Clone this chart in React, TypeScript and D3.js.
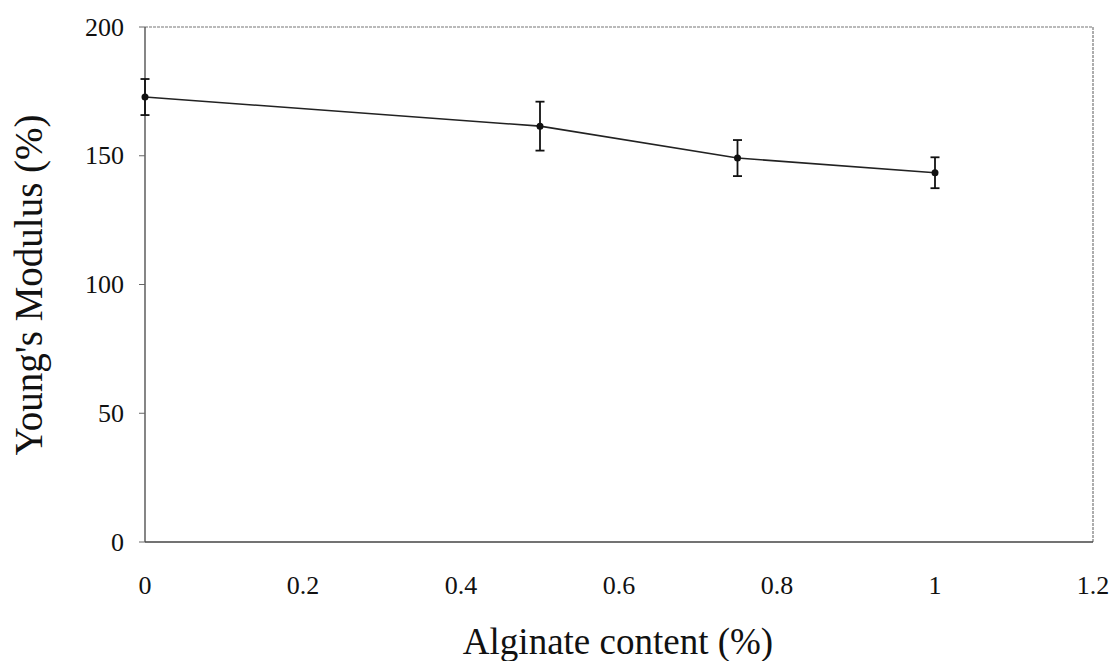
import React from "react"
import * as d3 from "d3"

const alginate = [0, 0.5, 0.75, 1]
const modulus = [172.8, 161.5, 149.1, 143.4]
const errors = [7, 9.5, 7, 6]
const xTicks = [0, 0.2, 0.4, 0.6, 0.8, 1, 1.2]
const yTicks = [0, 50, 100, 150, 200]

const width = 1114
const height = 661
const margin = { top: 27, right: 21, bottom: 119, left: 145 }
const font = "'Liberation Serif', 'Times New Roman', serif"

const App = () => {
  const x = d3
    .scaleLinear()
    .domain([0, 1.2])
    .range([margin.left, width - margin.right])
  const y = d3
    .scaleLinear()
    .domain([0, 200])
    .range([height - margin.bottom, margin.top])

  const line = d3
    .line<number>()
    .x((d, i) => x(alginate[i]))
    .y((d) => y(d))

  const x0 = x(0)
  const x1 = x(1.2)
  const y0 = y(0)
  const y1 = y(200)

  return (
    <svg
      width={width}
      height={height}
      style={{ position: "absolute", left: 0, top: 0, background: "#fff" }}
    >
      {/* frame: dotted top/right, solid left/bottom */}
      <line x1={x0} y1={y1} x2={x1} y2={y1} stroke="#777" strokeWidth={1.2} strokeDasharray="3,1" />
      <line x1={x1} y1={y1} x2={x1} y2={y0} stroke="#777" strokeWidth={1.2} strokeDasharray="3,1" />
      <line x1={x0} y1={y1} x2={x0} y2={y0} stroke="#444" strokeWidth={1.3} />
      <line x1={x0} y1={y0} x2={x1} y2={y0} stroke="#444" strokeWidth={1.3} />

      {/* y ticks */}
      {yTicks.map((t) => (
        <g key={t}>
          <line x1={x0 - 6} x2={x0} y1={y(t)} y2={y(t)} stroke="#666" strokeWidth={1} />
          <text
            x={x0 - 21}
            y={y(t)}
            textAnchor="end"
            dominantBaseline="central"
            fontFamily={font}
            fontSize={26}
            fill="#111"
          >
            {t}
          </text>
        </g>
      ))}

      {/* x tick labels */}
      {xTicks.map((t) => (
        <text
          key={t}
          x={x(t)}
          y={y0 + 43}
          textAnchor="middle"
          dominantBaseline="central"
          fontFamily={font}
          fontSize={26}
          fill="#111"
        >
          {t}
        </text>
      ))}

      {/* data line */}
      <path d={line(modulus) ?? ""} fill="none" stroke="#222" strokeWidth={1.6} />

      {/* error bars and markers */}
      {alginate.map((a, i) => {
        const cx = x(a)
        const top = y(modulus[i] + errors[i])
        const bot = y(modulus[i] - errors[i])
        return (
          <g key={a} stroke="#111" strokeWidth={1.8}>
            <line x1={cx} x2={cx} y1={top} y2={bot} />
            <line x1={cx - 4.5} x2={cx + 4.5} y1={top} y2={top} />
            <line x1={cx - 4.5} x2={cx + 4.5} y1={bot} y2={bot} />
            <circle cx={cx} cy={y(modulus[i])} r={3.5} fill="#111" stroke="none" />
          </g>
        )
      })}

      {/* axis titles */}
      <text
        x={618}
        y={641}
        textAnchor="middle"
        dominantBaseline="central"
        fontFamily={font}
        fontSize={37}
        fill="#111"
      >
        Alginate content (%)
      </text>
      <text
        transform={`translate(28,285) rotate(-90)`}
        textAnchor="middle"
        dominantBaseline="central"
        fontFamily={font}
        fontSize={39}
        fill="#111"
      >
        Young's Modulus (%)
      </text>
    </svg>
  )
}

export default App
